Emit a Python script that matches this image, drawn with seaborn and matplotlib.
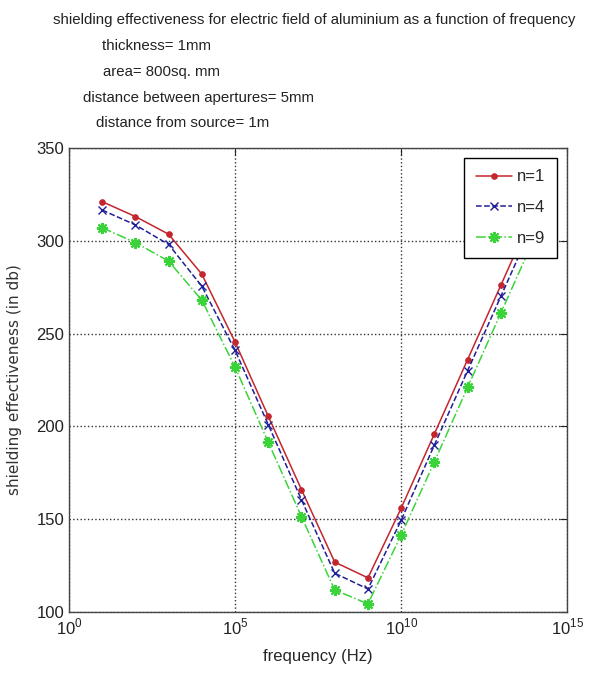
import numpy as np
import pandas as pd
import matplotlib
matplotlib.use('Agg')
import matplotlib.pyplot as plt
import matplotlib.ticker as mticker
import seaborn as sns

# frequency points (Hz), one per decade
freq = [1e1, 1e2, 1e3, 1e4, 1e5, 1e6, 1e7, 1e8, 1e9, 1e10, 1e11, 1e12, 1e13, 1e14]

# shielding effectiveness (db) for each n
se_n1 = [321, 313, 303.5, 282, 245.5, 205.5, 166, 127, 118.5, 156, 196, 236, 276, 316]
se_n4 = [316.5, 308.5, 298, 275.5, 241, 201, 160.5, 121, 112.5, 149.5, 190, 230, 270, 310]
se_n9 = [307, 299, 289, 268, 232, 191.5, 151.5, 112, 104.5, 141.5, 181, 221, 261, 301]

labels = ['n=1', 'n=4', 'n=9']
title_lines = [
    'shielding effectiveness for electric field of aluminium as a function of frequency',
    'thickness= 1mm',
    'area= 800sq. mm',
    'distance between apertures= 5mm',
    'distance from source= 1m',
]

sns.set_style('white')
plt.rcParams['font.family'] = ['Liberation Sans', 'DejaVu Sans']
plt.rcParams['mathtext.fontset'] = 'custom'
plt.rcParams['mathtext.rm'] = 'Liberation Sans'

fig = plt.figure(figsize=(5.94, 6.78), dpi=100, facecolor='w')
ax = fig.add_axes([0.116, 0.097, 0.839, 0.685])

# series styles, MATLAB-like
colors = ['#c3262c', '#1f1f96', '#3ad43a']
styles = [
    dict(linestyle='-', marker='.', markersize=8, linewidth=1.1),
    dict(linestyle='--', marker='x', markersize=6, linewidth=1.1, markeredgewidth=1.0),
    dict(linestyle='-.', marker=(8, 2, 0), markersize=8, linewidth=1.1, markeredgewidth=1.5),
]
series = [se_n1, se_n4, se_n9]

for vals, lab, col, st in zip(series, labels, colors, styles):
    df = pd.DataFrame({'freq': freq, 'se': vals})
    sns.lineplot(data=df, x='freq', y='se', ax=ax, label=lab, color=col,
                 markeredgecolor=col, markerfacecolor=col, **st)

ax.set_xscale('log')
ax.set_xlim(1, 1e15)
ax.set_ylim(100, 350)
ax.set_xticks([1, 1e5, 1e10, 1e15])
ax.set_xticklabels(['$10^{0}$', '$10^{5}$', '$10^{10}$', '$10^{15}$'])
ax.xaxis.set_minor_locator(mticker.NullLocator())
ax.set_yticks([100, 150, 200, 250, 300, 350])

ax.grid(True, linestyle=':', color='black', linewidth=1.0, alpha=0.8)
ax.tick_params(direction='in', top=True, right=True, length=5, width=0.8,
               labelsize=12, colors='#222222')
for sp in ax.spines.values():
    sp.set_color('#444444')
    sp.set_linewidth(1.0)

ax.set_xlabel('frequency (Hz)', fontsize=12, labelpad=8)
ax.set_ylabel('shielding effectiveness (in db)', fontsize=11, family='DejaVu Sans',
              color='#333333', labelpad=10)

leg = ax.legend(loc='upper right', fontsize=12, frameon=True, fancybox=False,
                framealpha=1.0, borderaxespad=0.6, handlelength=2.2, handletextpad=0.3,
                labelspacing=0.95, borderpad=0.7)
leg.get_frame().set_edgecolor('black')
leg.get_frame().set_linewidth(1.0)
leg.set_zorder(10)

# multi-line title, each line positioned as in the original
title_x = [53, 102, 103, 83, 96]
title_y = [20, 46, 72, 98, 123]
for txt, tx, ty in zip(title_lines, title_x, title_y):
    fig.text(tx / 594, 1 - ty / 678, txt, ha='left', va='center', fontsize=10.8, color='#222222')

fig.savefig('out.png', dpi=100)
plt.close()
